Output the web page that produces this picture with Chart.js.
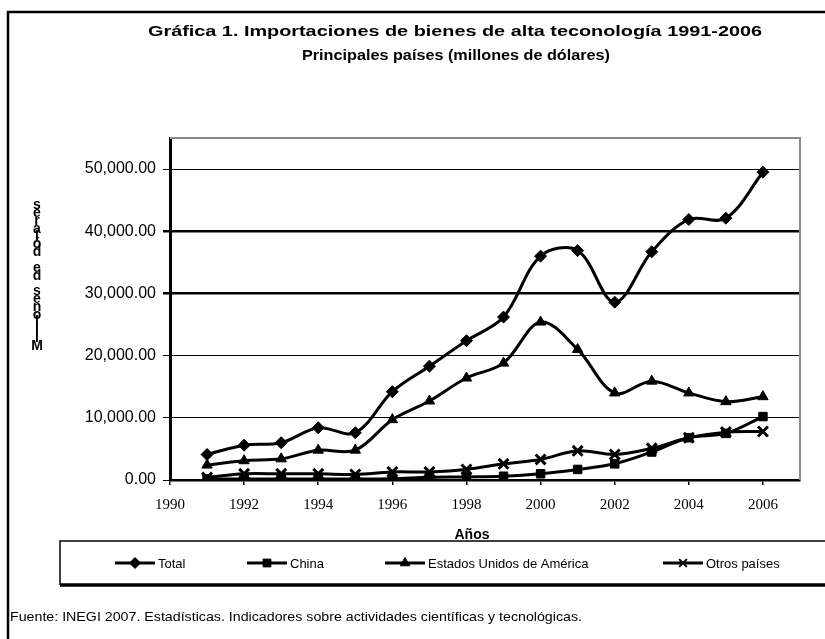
<!DOCTYPE html>
<html>
<head>
<meta charset="utf-8">
<script src="https://cdn.jsdelivr.net/npm/chart.js@4"></script>
<style>
  html, body { margin: 0; padding: 0; background: #fff; }
  #wrap { width: 825px; height: 639px; }
</style>
</head>
<body>
<div id="wrap"><canvas id="myChart" width="825" height="639"></canvas></div>
<script>
'use strict';

const years = [1991, 1992, 1993, 1994, 1995, 1996, 1997, 1998, 1999, 2000, 2001, 2002, 2003, 2004, 2005, 2006];
const total = [4100, 5600, 6000, 8400, 7600, 14200, 18300, 22400, 26200, 36000, 36900, 28600, 36700, 41900, 42100, 49500];
const china = [150, 150, 150, 150, 150, 200, 450, 500, 600, 1000, 1700, 2600, 4500, 6800, 7500, 10200];
const eua = [2400, 3100, 3400, 4800, 4800, 9700, 12700, 16400, 18800, 25400, 21000, 14000, 15900, 14000, 12600, 13400];
const otros = [400, 1000, 1000, 1000, 900, 1300, 1300, 1700, 2600, 3300, 4700, 4100, 5100, 6800, 7700, 7800];

const xTickValues = [1990, 1992, 1994, 1996, 1998, 2000, 2002, 2004, 2006];
const yTickValues = [0, 10000, 20000, 30000, 40000, 50000];

const seriesNames = ['Total', 'China', 'Estados Unidos de América', 'Otros países'];
const titleLines = ['Gráfica 1. Importaciones de bienes de alta teconología 1991-2006', 'Principales países (millones de dólares)'];
const yTitle = 'Millones de dólares';
const xTitle = 'Años';
const footer = 'Fuente: INEGI 2007. Estadísticas. Indicadores sobre actividades científicas y tecnológicas.';

function toPoints(values) {
  return values.map((v, i) => ({ x: years[i], y: v }));
}

function makeSet(label, values, style, radius) {
  return {
    label: label,
    data: toPoints(values),
    borderColor: '#000',
    backgroundColor: '#000',
    borderWidth: 3,
    tension: 0.35,
    pointStyle: style,
    pointRadius: radius,
    pointBorderWidth: style === 'crossRot' ? 3 : 1,
    pointBackgroundColor: '#000',
    pointBorderColor: '#000'
  };
}

// draws a string squeezed or stretched to a given width
function fitText(ctx, text, x, y, width) {
  const w = ctx.measureText(text).width;
  ctx.save();
  ctx.translate(x, y);
  ctx.scale(width / w, 1);
  ctx.fillText(text, 0, 0);
  ctx.restore();
}

const decorPlugin = {
  id: 'decor',
  afterDraw(chart) {
    const ctx = chart.ctx;
    const area = chart.chartArea;
    ctx.save();

    // plot frame top/right
    ctx.strokeStyle = '#8a8a8a';
    ctx.lineWidth = 2;
    ctx.beginPath();
    ctx.moveTo(area.left, area.top);
    ctx.lineTo(area.right, area.top);
    ctx.lineTo(area.right, area.bottom);
    ctx.stroke();

    // outer frame
    ctx.strokeStyle = '#000';
    ctx.lineWidth = 2.5;
    ctx.beginPath();
    ctx.moveTo(8, 639);
    ctx.lineTo(8, 12);
    ctx.lineTo(825, 12);
    ctx.stroke();

    // title
    ctx.fillStyle = '#000';
    ctx.textBaseline = 'middle';
    ctx.font = 'bold 15px "Liberation Sans", Arial, sans-serif';
    fitText(ctx, titleLines[0], 148, 32, 614);
    fitText(ctx, titleLines[1], 302, 56, 308);

    // y title, letters stacked bottom to top
    ctx.font = 'bold 14px "Liberation Sans", Arial, sans-serif';
    ctx.textAlign = 'center';
    for (let i = 0; i < yTitle.length; i++) {
      ctx.fillText(yTitle[i], 37, 346 - i * 7.8);
    }

    // x title
    ctx.font = 'bold 14px "Liberation Sans", Arial, sans-serif';
    ctx.fillText(xTitle, 472, 535);

    // legend box
    ctx.fillStyle = '#fff';
    ctx.fillRect(60, 541, 770, 44);
    ctx.strokeStyle = '#000';
    ctx.lineWidth = 1.5;
    ctx.beginPath();
    ctx.moveTo(825, 541);
    ctx.lineTo(60, 541);
    ctx.lineTo(60, 585);
    ctx.stroke();
    ctx.lineWidth = 3.5;
    ctx.beginPath();
    ctx.moveTo(60, 585);
    ctx.lineTo(825, 585);
    ctx.stroke();

    const legendX = [115, 247, 385, 663];
    const ly = 563;
    ctx.textAlign = 'left';
    ctx.font = '13px "Liberation Sans", Arial, sans-serif';
    chart.data.datasets.forEach((ds, i) => {
      const x0 = legendX[i];
      ctx.strokeStyle = '#000';
      ctx.fillStyle = '#000';
      ctx.lineWidth = 3;
      ctx.beginPath();
      ctx.moveTo(x0, ly);
      ctx.lineTo(x0 + 40, ly);
      ctx.stroke();
      ctx.lineWidth = ds.pointStyle === 'crossRot' ? 2 : 1;
      Chart.helpers.drawPoint(ctx, {
        pointStyle: ds.pointStyle,
        radius: 5.5,
        borderWidth: ctx.lineWidth
      }, x0 + 20, ly);
      ctx.fillStyle = '#000';
      ctx.fillText(ds.label, x0 + 43, ly + 1);
    });

    // footer
    ctx.font = '13px "Liberation Sans", Arial, sans-serif';
    fitText(ctx, footer, 10, 617, 572);

    ctx.restore();
  }
};

const data = {
  datasets: [
    makeSet(seriesNames[0], total, 'rectRot', 6),
    makeSet(seriesNames[1], china, 'rect', 6),
    makeSet(seriesNames[2], eua, 'triangle', 6),
    makeSet(seriesNames[3], otros, 'crossRot', 7)
  ]
};

const config = {
  type: 'line',
  data: data,
  options: {
    responsive: false,
    animation: false,
    layout: { padding: { left: 0, top: 138, right: 25, bottom: 0 } },
    plugins: {
      legend: { display: false },
      title: { display: false },
      tooltip: { enabled: false }
    },
    scales: {
      x: {
        type: 'linear',
        min: 1990,
        max: 2007,
        afterFit(scale) { scale.height = 159; },
        afterBuildTicks(scale) {
          scale.ticks = xTickValues.map(v => ({ value: v }));
        },
        ticks: {
          color: '#000',
          padding: 11,
          autoSkip: false,
          maxRotation: 0,
          font: { family: '"Liberation Serif", "Times New Roman", serif', size: 15 },
          callback: v => String(v)
        },
        grid: { drawOnChartArea: false, drawTicks: true, tickLength: 5, color: '#000', lineWidth: 1.5 },
        border: { color: '#000', width: 2.5 }
      },
      y: {
        min: 0,
        max: 55000,
        afterFit(scale) { scale.width = 170; },
        afterBuildTicks(scale) {
          scale.ticks = yTickValues.map(v => ({ value: v }));
        },
        ticks: {
          color: '#000',
          padding: 7,
          autoSkip: false,
          font: { family: '"Liberation Sans", Arial, sans-serif', size: 16 },
          callback: v => v.toLocaleString('en-US', { minimumFractionDigits: 2, maximumFractionDigits: 2 })
        },
        grid: {
          color: '#000',
          tickLength: 7,
          lineWidth: ctx => {
            const v = ctx.tick ? ctx.tick.value : 0;
            if (v === 30000 || v === 40000) return 2.5;
            return 1;
          }
        },
        border: { color: '#000', width: 3 }
      }
    }
  },
  plugins: [decorPlugin]
};

let canvasChart = document.getElementById('myChart');
const myChart = new Chart(canvasChart, config);
</script>
</body>
</html>
